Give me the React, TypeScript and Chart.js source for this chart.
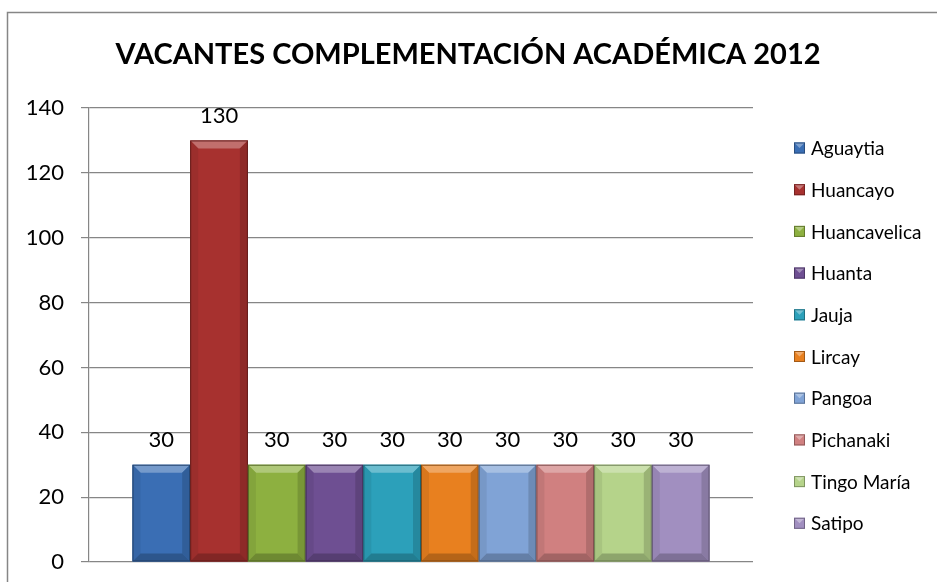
import React, { useEffect, useRef } from "react";
import { Chart, registerables } from "chart.js";

Chart.register(...registerables);

const chartTitle = "VACANTES COMPLEMENTACIÓN ACADÉMICA 2012";
const sedes = [
  "Aguaytia",
  "Huancayo",
  "Huancavelica",
  "Huanta",
  "Jauja",
  "Lircay",
  "Pangoa",
  "Pichanaki",
  "Tingo María",
  "Satipo",
];
const vacantes = [30, 130, 30, 30, 30, 30, 30, 30, 30, 30];
const colores = [
  "#3A6EB4",
  "#A7312F",
  "#8DB040",
  "#6E4F92",
  "#2CA0BA",
  "#E8801F",
  "#80A3D6",
  "#D08080",
  "#B5D38A",
  "#A18FC0",
];
const yMin = 0;
const yMax = 140;
const yStep = 20;

const FONT = "Lato, 'Open Sans', sans-serif";

function rgbOf(hex: string): number[] {
  const n = parseInt(hex.slice(1), 16);
  return [(n >> 16) & 255, (n >> 8) & 255, n & 255];
}
function shade(hex: string, f: number): string {
  const [r, g, b] = rgbOf(hex);
  return `rgb(${Math.round(r * f)},${Math.round(g * f)},${Math.round(b * f)})`;
}
function tint(hex: string, f: number): string {
  const [r, g, b] = rgbOf(hex);
  const t = (c: number) => Math.round(c + (255 - c) * f);
  return `rgb(${t(r)},${t(g)},${t(b)})`;
}

function bevel(ctx: CanvasRenderingContext2D, x0: number, y0: number, x1: number, y1: number, color: string, bv: number) {
  ctx.fillStyle = tint(color, 0.3);
  ctx.beginPath();
  ctx.moveTo(x0, y0);
  ctx.lineTo(x1, y0);
  ctx.lineTo(x1 - bv, y0 + bv);
  ctx.lineTo(x0 + bv, y0 + bv);
  ctx.closePath();
  ctx.fill();
  ctx.fillStyle = shade(color, 0.93);
  ctx.beginPath();
  ctx.moveTo(x0, y0);
  ctx.lineTo(x0 + bv, y0 + bv);
  ctx.lineTo(x0 + bv, y1 - bv);
  ctx.lineTo(x0, y1);
  ctx.closePath();
  ctx.fill();
  ctx.fillStyle = shade(color, 0.85);
  ctx.beginPath();
  ctx.moveTo(x1, y0);
  ctx.lineTo(x1 - bv, y0 + bv);
  ctx.lineTo(x1 - bv, y1 - bv);
  ctx.lineTo(x1, y1);
  ctx.closePath();
  ctx.fill();
  ctx.fillStyle = shade(color, 0.78);
  ctx.beginPath();
  ctx.moveTo(x0, y1);
  ctx.lineTo(x1, y1);
  ctx.lineTo(x1 - bv, y1 - bv);
  ctx.lineTo(x0 + bv, y1 - bv);
  ctx.closePath();
  ctx.fill();
  ctx.strokeStyle = shade(color, 0.6);
  ctx.lineWidth = 1;
  ctx.strokeRect(x0 + 0.5, y0 + 0.5, x1 - x0 - 1, y1 - y0 - 1);
}

const framePlugin = {
  id: "frame",
  beforeDraw(chart: any) {
    const ctx = chart.ctx;
    ctx.save();
    ctx.fillStyle = "#ffffff";
    ctx.fillRect(0, 0, chart.width, chart.height);
    ctx.strokeStyle = "#868686";
    ctx.lineWidth = 1.5;
    ctx.beginPath();
    ctx.moveTo(7.5, chart.height);
    ctx.lineTo(7.5, 12.5);
    ctx.lineTo(chart.width, 12.5);
    ctx.stroke();
    ctx.restore();
  },
  afterDatasetsDraw(chart: any) {
    const ctx = chart.ctx;
    ctx.save();
    chart.data.datasets.forEach((ds: any, i: number) => {
      const meta = chart.getDatasetMeta(i);
      meta.data.forEach((el: any) => {
        const x0 = el.x - el.width / 2;
        const x1 = el.x + el.width / 2;
        bevel(ctx, x0, el.y, x1, el.base, ds.backgroundColor, 8);
      });
    });
    ctx.fillStyle = "#000";
    ctx.font = `22px ${FONT}`;
    ctx.textAlign = "center";
    ctx.textBaseline = "middle";
    chart.data.datasets.forEach((ds: any, i: number) => {
      const meta = chart.getDatasetMeta(i);
      meta.data.forEach((el: any, j: number) => {
        ctx.fillText(String(ds.data[j]), el.x, el.y - 25);
      });
    });
    ctx.restore();
  },
  afterDraw(chart: any) {
    const ctx = chart.ctx;
    ctx.save();
    ctx.fillStyle = "#000";
    ctx.font = `bold 29px ${FONT}`;
    ctx.textAlign = "center";
    ctx.textBaseline = "middle";
    ctx.fillText(chartTitle, 468, 55);
    const area = chart.chartArea;
    const lx = area.right + 41;
    ctx.font = `19px ${FONT}`;
    ctx.textAlign = "left";
    chart.data.datasets.forEach((ds: any, i: number) => {
      const y = 148 + i * 41.7;
      ctx.fillStyle = ds.backgroundColor;
      ctx.fillRect(lx, y - 5.5, 11, 11);
      ctx.fillStyle = tint(ds.backgroundColor, 0.35);
      ctx.beginPath();
      ctx.moveTo(lx, y - 5.5);
      ctx.lineTo(lx + 11, y - 5.5);
      ctx.lineTo(lx + 5.5, y);
      ctx.closePath();
      ctx.fill();
      ctx.strokeStyle = shade(ds.backgroundColor, 0.7);
      ctx.lineWidth = 1;
      ctx.strokeRect(lx + 0.5, y - 5, 10, 10);
      ctx.fillStyle = "#000";
      ctx.fillText(ds.label, lx + 17, y + 1);
    });
    ctx.restore();
  },
};

export default function App() {
  const ref = useRef<HTMLCanvasElement>(null);
  useEffect(() => {
    if (!ref.current) return;
    const chart = new Chart(ref.current, {
      type: "bar",
      data: {
        labels: [""],
        datasets: sedes.map((s, i) => ({
          label: s,
          data: [vacantes[i]],
          backgroundColor: colores[i],
          borderWidth: 0,
        })),
      },
      options: {
        responsive: false,
        animation: false,
        layout: { padding: { left: 0, right: 184, top: 108, bottom: 20 } },
        plugins: {
          legend: { display: false },
          title: { display: false },
          tooltip: { enabled: false },
        },
        datasets: {
          bar: { categoryPercentage: 0.869, barPercentage: 1 },
        },
        scales: {
          x: { display: false },
          y: {
            min: yMin,
            max: yMax,
            ticks: {
              stepSize: yStep,
              color: "#000",
              padding: 17,
              font: { family: FONT, size: 22 },
            },
            grid: { color: "#868686", tickLength: 8, lineWidth: 1.2 },
            border: { display: true, color: "#868686", width: 1.2 },
            afterFit(scale: any) {
              scale.width = 89;
              scale.paddingTop = 0;
              scale.paddingBottom = 0;
            },
          },
        },
      },
      plugins: [framePlugin],
    });
    return () => chart.destroy();
  }, []);
  return (
    <div style={{ position: "absolute", left: 0, top: 0, width: 937, height: 582 }}>
      <canvas ref={ref} width={937} height={582} />
    </div>
  );
}
